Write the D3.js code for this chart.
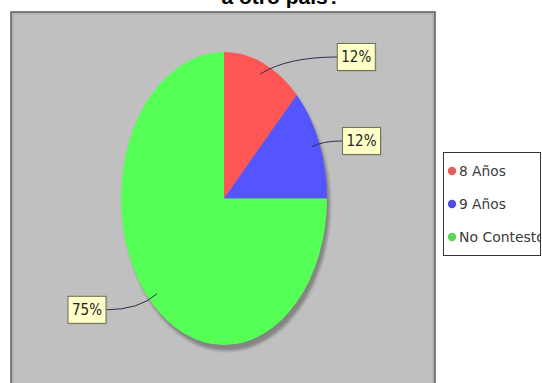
<!DOCTYPE html>
<html><head><meta charset="utf-8">
<script src="https://cdn.jsdelivr.net/npm/d3@7"></script>
<style>
html,body{margin:0;padding:0;background:#fff;}
svg{display:block;}
</style></head>
<body>
<svg id="chart" width="542" height="383"></svg>
<script>
const categories = ["8 Años", "9 Años", "No Contesto"];
const values = [12.5, 12.5, 75];
const valueLabels = ["12%", "12%", "75%"];
const colors = ["#ff5555", "#5555ff", "#55ff55"];
const legendColors = ["#e85a5a", "#4c4ce6", "#5ad85a"];
const title = "a otro país?";

const svg = d3.select("#chart");

// title (cut off at the top)
svg.append("text").attr("x", 281).attr("y", 4)
  .attr("text-anchor", "middle")
  .style("font-family", "Liberation Sans, Arial, sans-serif")
  .style("font-weight", "bold").style("font-size", "21px")
  .attr("fill", "#000").text(title);

// plot panel
svg.append("rect").attr("x", 11).attr("y", 12).attr("width", 424).attr("height", 390)
  .attr("fill", "#c0c0c0").attr("stroke", "#5a5a5a").attr("stroke-width", 1.5);
svg.append("rect").attr("x", 13).attr("y", 14).attr("width", 420).attr("height", 390)
  .attr("fill", "none").attr("stroke", "#a8a8a8").attr("stroke-width", 1);

const cx = 224, cy = 198.5, rx = 103, ry = 146.5;
const pie = d3.pie().sort(null).value(d => d)(values);
const arc = d3.arc().innerRadius(0).outerRadius(ry);

// shadow
const defs = svg.append("defs");
const f = defs.append("filter").attr("id", "blur").attr("x", "-20%").attr("y", "-20%").attr("width", "140%").attr("height", "140%");
f.append("feGaussianBlur").attr("stdDeviation", 1.5);
defs.append("clipPath").attr("id", "legclip").append("rect")
  .attr("x", 444).attr("y", 153).attr("width", 96).attr("height", 102);
svg.append("ellipse").attr("cx", cx + 3).attr("cy", cy + 6).attr("rx", rx).attr("ry", ry)
  .attr("fill", "#7a7a7a").attr("opacity", 0.85).attr("filter", "url(#blur)");

const g = svg.append("g").attr("transform", `translate(${cx},${cy}) scale(${rx / ry},1)`);
g.selectAll("path").data(pie).join("path")
  .attr("d", arc).attr("fill", (d, i) => colors[i]);

// labels with leader lines
const labelOffsets = [[77, -17], [31, -6], [-51, 16]];
const anchorFactor = 0.92;
const bw = 38, bh = 27;
pie.forEach((d, i) => {
  const a = (d.startAngle + d.endAngle) / 2;
  const ax = cx + rx * anchorFactor * Math.sin(a);
  const ay = cy - ry * anchorFactor * Math.cos(a);
  const ex = ax + labelOffsets[i][0], ey = ay + labelOffsets[i][1];
  const right = labelOffsets[i][0] > 0;
  const path = d3.path();
  path.moveTo(ax, ay);
  path.quadraticCurveTo(ax + (ex - ax) * 0.35, ey, ex, ey);
  svg.append("path").attr("d", path.toString()).attr("fill", "none")
    .attr("stroke", "#2e2e48").attr("stroke-width", 1);
  const bx = right ? ex : ex - bw;
  svg.append("rect").attr("x", bx + 1.5).attr("y", ey - bh / 2 + 1.5).attr("width", bw).attr("height", bh)
    .attr("fill", "#a8a8a0").attr("opacity", 0.6);
  svg.append("rect").attr("x", bx).attr("y", ey - bh / 2).attr("width", bw).attr("height", bh)
    .attr("fill", "#ffffc8").attr("stroke", "#6e6e50").attr("stroke-width", 1);
  svg.append("text").attr("x", bx + bw / 2).attr("y", ey + 5.5)
    .attr("text-anchor", "middle")
    .style("font-family", "DejaVu Sans Condensed, DejaVu Sans, sans-serif")
    .style("font-stretch", "condensed")
    .style("font-size", "15px").attr("fill", "#222")
    .attr("textLength", 30).attr("lengthAdjust", "spacingAndGlyphs")
    .text(valueLabels[i]);
});

// legend
const lg = svg.append("g");
lg.append("rect").attr("x", 443.5).attr("y", 152.5).attr("width", 97).attr("height", 103)
  .attr("fill", "#fff").attr("stroke", "#333").attr("stroke-width", 1);
const ly = d3.scalePoint().domain(categories).range([171, 237]);
const items = lg.append("g").attr("clip-path", "url(#legclip)");
categories.forEach((c, i) => {
  items.append("circle").attr("cx", 452).attr("cy", ly(c)).attr("r", 4.2).attr("fill", legendColors[i]);
  items.append("text").attr("x", 459).attr("y", ly(c) + 5)
    .style("font-family", "DejaVu Sans Condensed, DejaVu Sans, sans-serif")
    .style("font-stretch", "condensed")
    .style("font-size", "14px").attr("fill", "#3a3a3a")
    .attr("textLength", c.length * 7.8).attr("lengthAdjust", "spacingAndGlyphs")
    .text(c);
});
</script>
</body></html>
